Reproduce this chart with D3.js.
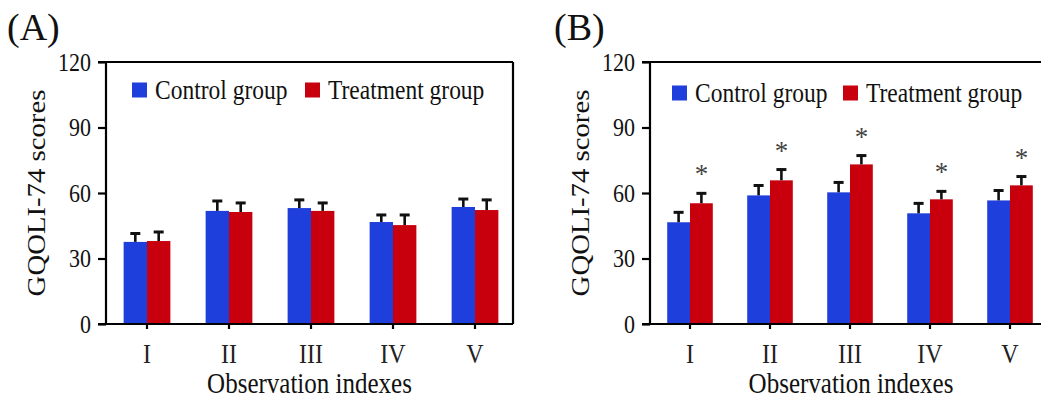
<!DOCTYPE html>
<html>
<head>
<meta charset="utf-8">
<script src="https://cdn.jsdelivr.net/npm/d3@7"></script>
<style>
  html, body { margin: 0; padding: 0; background: #fff; }
  svg { display: block; }
  text { font-family: "Liberation Serif", "Times New Roman", serif; fill: #111; }
</style>
</head>
<body>
<svg id="chart" width="1041" height="400"></svg>
<script>
// ---- data ----
const categories = ["I", "II", "III", "IV", "V"];
const seriesNames = ["Control group", "Treatment group"];
const yTicks = [0, 30, 60, 90, 120];

const controlA   = [37.6, 51.8, 53.1, 46.7, 53.6];
const controlSdA = [4.3, 5.0, 4.2, 3.7, 4.1];
const treatA     = [38.0, 51.3, 51.8, 45.3, 52.2];
const treatSdA   = [4.6, 4.6, 4.1, 5.1, 5.1];

const controlB   = [46.6, 58.9, 60.3, 50.7, 56.6];
const controlSdB = [5.0, 5.0, 5.0, 5.0, 5.0];
const treatB     = [55.3, 65.8, 73.1, 57.1, 63.5];
const treatSdB   = [5.0, 5.4, 4.5, 4.1, 4.5];
const sigB       = [true, true, true, true, true];

const panelLabels = ["(A)", "(B)"];
const xTitle = "Observation indexes";
const yTitle = "GQOLI-74 scores";

// ---- style ----
const colors = ["#1f3fdc", "#c8000e"];
const SY = 1.15; // vertical text stretch of the original figure
const svg = d3.select("#chart");

function stretchedText(g, x, y, size, str, anchor) {
  return g.append("text").attr("transform", `translate(${x},${y}) scale(1,${SY})`)
    .attr("text-anchor", anchor || "start").attr("font-size", size).text(str);
}

function drawPanel(cfg) {
  const g = svg.append("g");
  const x = d3.scaleBand().domain(categories).range([cfg.left, cfg.left + cfg.step * 5]).padding(0);
  const y = d3.scaleLinear().domain([0, 120]).range([cfg.bottom, cfg.top]);
  const bw = cfg.step * 0.285;

  // frame top & right
  g.append("line").attr("x1", cfg.left).attr("x2", cfg.right).attr("y1", y(120)).attr("y2", y(120))
    .attr("stroke", "#000").attr("stroke-width", 2.2);
  g.append("line").attr("x1", cfg.right).attr("x2", cfg.right).attr("y1", y(120)).attr("y2", y(0))
    .attr("stroke", "#000").attr("stroke-width", 2.2);

  // bars
  const series = [
    { vals: cfg.control, sd: cfg.controlSd, off: -bw, color: colors[0] },
    { vals: cfg.treat, sd: cfg.treatSd, off: 0, color: colors[1] }
  ];
  series.forEach(s => {
    categories.forEach((c, i) => {
      const cx = x(c) + x.bandwidth() / 2;
      const x0 = cx + s.off;
      g.append("rect").attr("x", x0).attr("y", y(s.vals[i])).attr("width", bw)
        .attr("height", y(0) - y(s.vals[i])).attr("fill", s.color);
      const top = y(s.vals[i] + s.sd[i]);
      const mid = x0 + bw / 2;
      g.append("line").attr("x1", mid).attr("x2", mid).attr("y1", y(s.vals[i])).attr("y2", top)
        .attr("stroke", "#111").attr("stroke-width", 2.6);
      g.append("line").attr("x1", mid - 5).attr("x2", mid + 5).attr("y1", top + 1).attr("y2", top + 1)
        .attr("stroke", "#111").attr("stroke-width", 3);
    });
  });

  // significance asterisks
  if (cfg.sig) {
    categories.forEach((c, i) => {
      if (!cfg.sig[i]) return;
      const cx = x(c) + x.bandwidth() / 2 + bw / 2;
      const top = y(cfg.treat[i] + cfg.treatSd[i]);
      g.append("text").attr("x", cx).attr("y", top - 24 + 15).attr("text-anchor", "middle")
        .attr("font-size", 27).style("fill", "#444").text("*");
    });
  }

  // y axis
  const yAxis = g.append("g").attr("transform", `translate(${cfg.left},0)`)
    .call(d3.axisLeft(y).tickValues(yTicks).tickSize(8).tickPadding(7));
  yAxis.attr("font-family", null).attr("font-size", null);
  yAxis.select(".domain").attr("stroke-width", 2.2).attr("d", `M-8,${y(120)}H0V${y(0)}`);
  yAxis.selectAll(".tick line").attr("stroke-width", 2.2);
  yAxis.selectAll(".tick text").attr("font-size", 22).attr("dy", "0.33em")
    .attr("transform", `scale(1,${SY})`).style("fill", "#111");

  // x axis
  const xAxis = g.append("g").attr("transform", `translate(0,${y(0)})`)
    .call(d3.axisBottom(x).tickSize(5));
  xAxis.attr("font-family", null).attr("font-size", null);
  xAxis.select(".domain").attr("stroke-width", 2.2).attr("d", `M${cfg.left - 8},0H${cfg.right}`);
  xAxis.selectAll(".tick line").attr("stroke-width", 2.2);
  xAxis.selectAll(".tick text").attr("font-size", 24).attr("y", 39 / SY).attr("dy", 0)
    .attr("transform", `scale(1,${SY})`).style("fill", "#222");

  // titles
  stretchedText(g, (cfg.left + cfg.titleRight) / 2, 393, 25, xTitle, "middle");
  g.append("text").attr("transform", `translate(${cfg.left - 61},${(y(0) + y(120)) / 2}) scale(1,${SY}) rotate(-90)`)
    .attr("text-anchor", "middle").attr("font-size", 25).text(yTitle);
  g.append("text").attr("x", cfg.labelX).attr("y", 40).attr("font-size", 38).text(cfg.label);

  // legend
  const lg = g.append("g").attr("transform", `translate(${cfg.left + cfg.legOff},${cfg.legY})`);
  seriesNames.forEach((n, i) => {
    const ox = i === 0 ? 0 : cfg.legGap;
    lg.append("rect").attr("x", ox).attr("y", -7.5).attr("width", 15).attr("height", 15).attr("fill", colors[i]);
    stretchedText(lg, ox + 23, 8.9, 23.5, n);
  });
}

drawPanel({ left: 106, right: 513, titleRight: 513, step: 82, top: 62, bottom: 324,
  control: controlA, controlSd: controlSdA, treat: treatA, treatSd: treatSdA,
  label: panelLabels[0], labelX: 7, legOff: 26, legY: 90, legGap: 173 });
drawPanel({ left: 650, right: 1052, titleRight: 1052, step: 80, top: 62, bottom: 324,
  control: controlB, controlSd: controlSdB, treat: treatB, treatSd: treatSdB, sig: sigB,
  label: panelLabels[1], labelX: 554, legOff: 22, legY: 93, legGap: 171 });
</script>
</body>
</html>
